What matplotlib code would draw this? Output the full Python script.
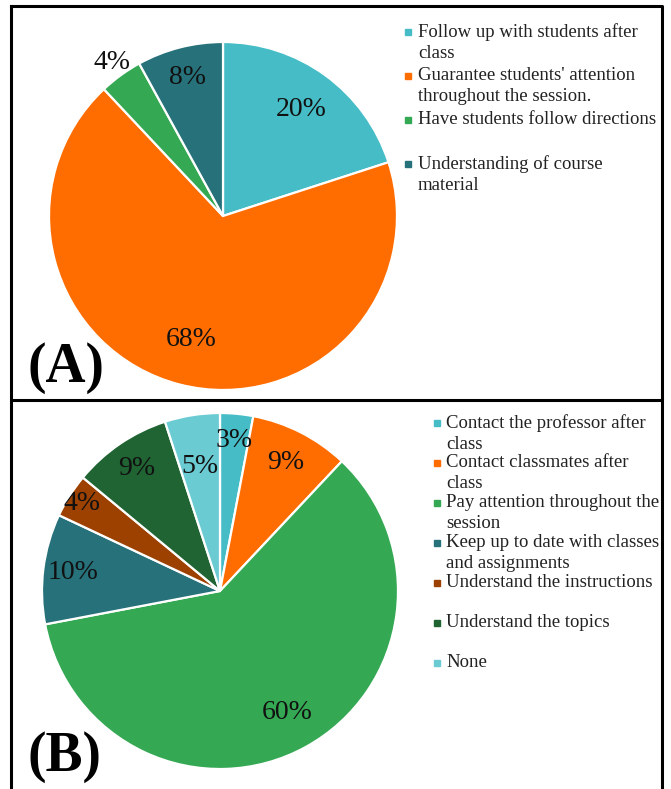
import numpy as np
import matplotlib
matplotlib.use("Agg")
import matplotlib.pyplot as plt
from matplotlib.lines import Line2D

W, H = 671, 789

# Panel A: difficulties teachers reported
labels_a = [
    "Follow up with students after\nclass",
    "Guarantee students' attention\nthroughout the session.",
    "Have students follow directions",
    "Understanding of course\nmaterial",
]
values_a = [20, 68, 4, 8]
colors_a = ["#46BDC6", "#FF6D01", "#34A853", "#26717A"]
pct_dist_a = [0.76, 0.73, 1.09, 0.82]

# Panel B: difficulties students reported
labels_b = [
    "Contact the professor after\nclass",
    "Contact classmates after\nclass",
    "Pay attention throughout the\nsession",
    "Keep up to date with classes\nand assignments",
    "Understand the instructions",
    "Understand the topics",
    "None",
]
values_b = [3, 9, 60, 10, 4, 9, 5]
colors_b = ["#46BDC6", "#FF6D01", "#34A853", "#26717A", "#9C4100", "#1F6432", "#6BCBD3"]
pct_dist_b = [0.85, 0.81, 0.78, 0.83, 0.92, 0.83, 0.71]

SERIF = ["Liberation Serif", "DejaVu Serif"]

fig = plt.figure(figsize=(W / 100, H / 100), dpi=100)
fig.patch.set_facecolor("white")

# full-figure overlay in pixel units for the frames, legends and panel tags
overlay = fig.add_axes([0, 0, 1, 1])
overlay.set_xlim(0, W)
overlay.set_ylim(H, 0)
overlay.axis("off")


def pie_axes(cx, cy, r):
    ax = fig.add_axes([(cx - r) / W, 1 - (cy + r) / H, 2 * r / W, 2 * r / H])
    ax.set_xlim(-1, 1)
    ax.set_ylim(-1, 1)
    ax.axis("off")
    return ax


def draw_pie(ax, values, colors, dists):
    wedges, _ = ax.pie(values, colors=colors, startangle=90, counterclock=False,
                       radius=1.0, wedgeprops=dict(edgecolor="white", linewidth=1.6))
    ax.set_xlim(-1, 1)
    ax.set_ylim(-1, 1)
    for w, v, d in zip(wedges, values, dists):
        mid = np.deg2rad((w.theta1 + w.theta2) / 2)
        ax.text(d * np.cos(mid), d * np.sin(mid), f"{v}%", ha="center", va="center",
                fontsize=20, family=SERIF, color="#111111", clip_on=False)


def draw_legend(labels, colors, x_marker, x_text, y0, dy):
    for i, (lab, col) in enumerate(zip(labels, colors)):
        y = y0 + i * dy
        overlay.plot(x_marker, y, marker="s", markersize=4, color=col, linestyle="none")
        overlay.text(x_text, y - 9, lab, ha="left", va="top", fontsize=13.5,
                     family=SERIF, color="#222222", linespacing=1.3)


draw_pie(pie_axes(223, 216, 174), values_a, colors_a, pct_dist_a)
draw_pie(pie_axes(220, 591, 178), values_b, colors_b, pct_dist_b)

draw_legend(labels_a, colors_a, 408, 418, 32, 44)
draw_legend(labels_b, colors_b, 437, 446, 423, 40)

# panel frames
frame = dict(color="black", linewidth=2.2, solid_capstyle="projecting")
overlay.add_line(Line2D([11, 662, 662, 11, 11], [6, 6, 400, 400, 6], **frame))
overlay.add_line(Line2D([11, 11], [400, H + 5], **frame))
overlay.add_line(Line2D([662, 662], [400, H + 5], **frame))

overlay.text(66, 368, "(A)", ha="center", va="center", fontsize=40,
             fontweight="bold", family=SERIF)
overlay.text(64, 757, "(B)", ha="center", va="center", fontsize=40,
             fontweight="bold", family=SERIF)

fig.savefig("out.png", dpi=100, facecolor="white")
